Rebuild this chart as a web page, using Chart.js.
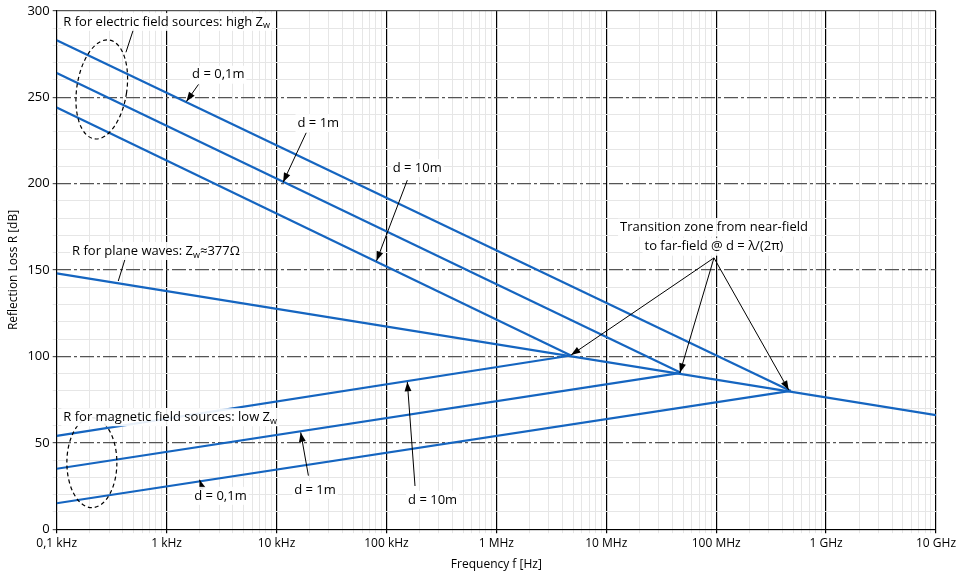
<!DOCTYPE html>
<html><head><meta charset="utf-8">
<script src="https://cdn.jsdelivr.net/npm/chart.js@4.4.0/dist/chart.umd.min.js"></script>
<style>body{margin:0;background:#fff}#wrap{width:966px;height:580px}</style>
</head><body><div id="wrap"><canvas id="c"></canvas></div>
<script>
// frequencies in Hz, values in dB
var fStart = 100, fEnd = 1e10;
var transFreq = [4.77e6, 4.77e7, 4.77e8];      // d = 10m, 1m, 0,1m
var planeWave = [148, 66];                     // at fStart, fEnd
var electricStart = [244, 264, 283];           // d = 10m, 1m, 0,1m
var electricEnd = [100.5, 90.5, 80];
var magneticStart = [54, 35, 15];
var xTickLabels = ["0,1 kHz","1 kHz","10 kHz","100 kHz","1 MHz","10 MHz","100 MHz","1 GHz","10 GHz"];
var blue = '#1565c0';

var datasets = [{data: [{x: fStart, y: planeWave[0]}, {x: fEnd, y: planeWave[1]}]}];
for (var i = 0; i < 3; i++) {
  datasets.push({data: [{x: fStart, y: electricStart[i]}, {x: transFreq[i], y: electricEnd[i]}]});
  datasets.push({data: [{x: fStart, y: magneticStart[i]}, {x: transFreq[i], y: electricEnd[i]}]});
}
datasets.forEach(function(d){ d.borderColor = blue; d.borderWidth = 2.2; d.pointRadius = 0; d.fill = false; });

// annotations in (decades above 100 Hz, dB)
var texts = [
  {t: 'R for electric field sources: high Z', sub: 'w', d: 0.06, v: 293.6, align: 'left'},
  {t: 'd = 0,1m', d: 1.47, v: 263},
  {t: 'd = 1m', d: 2.38, v: 235},
  {t: 'd = 10m', d: 3.28, v: 209},
  {t: 'R for plane waves: Z', sub: 'w', after: '\u2248377\u03A9', d: 0.14, v: 161, align: 'left'},
  {t: 'Transition zone from near-field', d: 5.98, v: 174.5},
  {t: 'to far-field @ d = \u03BB/(2\u03C0)', d: 5.98, v: 163.5},
  {t: 'R for magnetic field sources: low Z', sub: 'w', d: 0.06, v: 64.8, align: 'left'},
  {t: 'd = 10m', d: 3.42, v: 17},
  {t: 'd = 1m', d: 2.35, v: 22.8},
  {t: 'd = 0,1m', d: 1.49, v: 19.3}
];
var arrows = [
  [1.29, 257.4, 1.18, 247.5], [2.27, 229.4, 2.06, 200.8], [3.19, 202, 2.91, 155.3],
  [5.98, 157, 4.68, 100.8], [5.98, 157, 5.67, 90.5], [5.98, 157, 6.66, 80.5],
  [3.26, 25, 3.19, 85.2], [2.29, 31, 2.22, 56], [1.33, 22.8, 1.30, 28.6]
];
var leaders = [[0.63, 276, 0.70, 289.6], [0.63, 158, 0.56, 143.6]];
var ellipses = [[0.41, 254.5, 25, 50, 0.15], [0.32, 38.5, 25, 45, 0]];

var annot = {
  id: 'annot',
  afterDatasetsDraw: function(chart) {
    var ctx = chart.ctx, xs = chart.scales.x, ys = chart.scales.y;
    function px(d){ return xs.getPixelForValue(fStart * Math.pow(10, d)); }
    function py(v){ return ys.getPixelForValue(v); }
    ctx.save();
    ctx.strokeStyle = '#000'; ctx.fillStyle = '#000'; ctx.lineWidth = 1;
    leaders.forEach(function(l){
      ctx.beginPath(); ctx.moveTo(px(l[0]), py(l[1])); ctx.lineTo(px(l[2]), py(l[3])); ctx.stroke();
    });
    arrows.forEach(function(a){
      var x1 = px(a[0]), y1 = py(a[1]), x2 = px(a[2]), y2 = py(a[3]);
      var ang = Math.atan2(y2 - y1, x2 - x1);
      ctx.beginPath(); ctx.moveTo(x1, y1); ctx.lineTo(x2, y2); ctx.stroke();
      ctx.beginPath(); ctx.moveTo(x2, y2);
      ctx.lineTo(x2 - 10 * Math.cos(ang - 0.35), y2 - 10 * Math.sin(ang - 0.35));
      ctx.lineTo(x2 - 10 * Math.cos(ang + 0.35), y2 - 10 * Math.sin(ang + 0.35));
      ctx.closePath(); ctx.fill();
    });
    ctx.setLineDash([4, 3]); ctx.lineWidth = 1.2;
    ellipses.forEach(function(e){
      ctx.beginPath(); ctx.ellipse(px(e[0]), py(e[1]), e[2], e[3], e[4], 0, Math.PI * 2); ctx.stroke();
    });
    ctx.setLineDash([]);
    ctx.textBaseline = 'middle';
    texts.forEach(function(t){
      ctx.font = '13px "Open Sans"';
      var w = ctx.measureText(t.t).width;
      ctx.font = '9px "Open Sans"';
      var ws = t.sub ? ctx.measureText(t.sub).width : 0;
      ctx.font = '13px "Open Sans"';
      var wa = t.after ? ctx.measureText(t.after).width : 0;
      var total = w + ws + wa;
      var x = t.align === 'left' ? px(t.d) : px(t.d) - total / 2, y = py(t.v);
      ctx.fillStyle = 'rgba(255,255,255,0.9)';
      ctx.fillRect(x - 2, y - 9, total + 4, 18);
      ctx.fillStyle = '#000'; ctx.textAlign = 'left';
      ctx.fillText(t.t, x, y);
      if (t.sub) { ctx.font = '9px "Open Sans"'; ctx.fillText(t.sub, x + w, y + 4); }
      if (t.after) { ctx.font = '13px "Open Sans"'; ctx.fillText(t.after, x + w + ws, y); }
    });
    ctx.restore();
  }
};

new Chart(document.getElementById('c'), {
  type: 'line',
  data: {datasets: datasets},
  plugins: [annot],
  options: {
    responsive: true, maintainAspectRatio: false, animation: false,
    layout: {padding: {top: 0, right: 30, left: 2, bottom: 4}},
    plugins: {legend: {display: false}, tooltip: {enabled: false}},
    scales: {
      x: {
        type: 'logarithmic', min: fStart, max: fEnd,
        afterBuildTicks: function(axis) {
          var t = [];
          for (var e = 2; e <= 10; e++) for (var m = 1; m <= 9; m++) {
            if (e === 10 && m > 1) break;
            t.push({value: m * Math.pow(10, e)});
          }
          axis.ticks = t;
        },
        ticks: {
          autoSkip: false, maxRotation: 0, color: '#000', font: {family: 'Open Sans', size: 12},
          callback: function(v) {
            var e = Math.log10(v);
            return Math.abs(e - Math.round(e)) < 1e-6 ? xTickLabels[Math.round(e) - 2] : '';
          }
        },
        grid: {
          color: function(c){ var e = Math.log10(c.tick.value); return Math.abs(e - Math.round(e)) < 1e-6 ? '#000' : '#e6e6e6'; },
          lineWidth: function(c){ var e = Math.log10(c.tick.value); return Math.abs(e - Math.round(e)) < 1e-6 ? 1.2 : 1; },
          drawTicks: true, tickLength: 4
        },
        border: {color: '#000'},
        title: {display: true, text: 'Frequency f [Hz]', color: '#000', font: {family: 'Open Sans', size: 12}}
      },
      y: {
        min: 0, max: 300,
        ticks: {
          stepSize: 10, autoSkip: false, color: '#000', font: {family: 'Open Sans', size: 13},
          callback: function(v){ return v % 50 === 0 ? v : ''; }
        },
        grid: {
          color: function(c){ return c.tick.value % 50 === 0 ? '#555' : '#e6e6e6'; },
          lineWidth: function(c){ return c.tick.value % 50 === 0 ? 1.2 : 1; },
          tickLength: 4
        },
        border: {color: '#000', dash: function(c){ return (c.tick && c.tick.value % 50 === 0 && c.tick.value > 0 && c.tick.value < 300) ? [14, 3, 3, 3] : []; }},
        title: {display: true, text: 'Reflection Loss R [dB]', color: '#000', font: {family: 'Open Sans', size: 12}}
      }
    }
  }
});
</script></body></html>
